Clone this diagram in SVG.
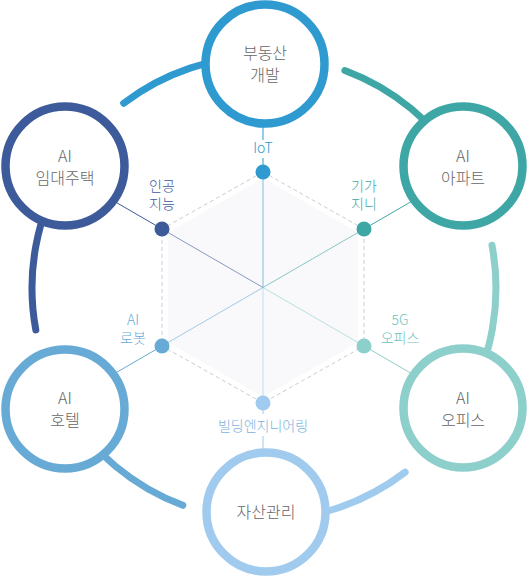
<svg xmlns="http://www.w3.org/2000/svg" width="529" height="577" viewBox="0 0 529 577">
<style>
.ring{fill:none;stroke-width:7;stroke-linecap:round}
.node{fill:#fff;stroke-width:8.5}
.main{font-family:"Noto Sans CJK KR","Noto Sans",sans-serif;font-size:16px;fill:#666;text-anchor:middle;font-weight:300}
.lab{font-family:"Noto Sans CJK KR","Noto Sans",sans-serif;font-size:14px;text-anchor:middle;font-weight:300}
.spoke{stroke-width:1;opacity:0.6}
.con{stroke-width:1}
</style>
<rect width="529" height="577" fill="#fff"/>
<g id="connectors">
  <path class="ring" stroke="#2e9ad0" d="M264,56 A232,232 0 0 0 123.7,103.2"/>
  <path class="ring" stroke="#3d5a9b" d="M66.2,166.8 A232,232 0 0 0 35.8,329.9"/>
  <path class="ring" stroke="#67aad5" d="M65.1,407.5 A232,232 0 0 0 182.8,505.3"/>
  <path class="ring" stroke="#9fcbee" d="M264,520 A232,232 0 0 0 405.2,472.1"/>
  <path class="ring" stroke="#8dcfcb" d="M462.9,407.5 A232,232 0 0 0 492,245.3"/>
  <path class="ring" stroke="#3ea7a6" d="M461.8,166.8 A232,232 0 0 0 344.9,70.5"/>
  <polygon points="263,178 358,232.5 358,342.5 263,397 168,342.5 168,232.5" fill="#f9f9fb"/>
  <polygon points="263,172 364,229 364,346 263,403 162,346 162,229" fill="none" stroke="#cccccc" stroke-width="1" stroke-dasharray="4,3"/>
  <line class="spoke" stroke="#2e9ad0" x1="263" y1="172" x2="263" y2="287.5"/>
  <line class="spoke" stroke="#3d5a9b" x1="162" y1="229" x2="263" y2="287.5"/>
  <line class="spoke" stroke="#3ea7a6" x1="364" y1="229" x2="263" y2="287.5"/>
  <line class="spoke" stroke="#67aad5" x1="162" y1="346" x2="263" y2="287.5"/>
  <line class="spoke" stroke="#8dcfcb" x1="364" y1="346" x2="263" y2="287.5"/>
  <line class="spoke" stroke="#9fcbee" x1="263" y1="403" x2="263" y2="287.5"/>
  <line class="con" stroke="#2e9ad0" x1="263" y1="120" x2="263" y2="140"/>
  <line class="con" stroke="#2e9ad0" x1="263" y1="158" x2="263" y2="172"/>
  <line class="con" stroke="#3d5a9b" x1="162" y1="229" x2="100" y2="193"/>
  <line class="con" stroke="#3ea7a6" x1="364" y1="229" x2="426" y2="193"/>
  <line class="con" stroke="#67aad5" x1="162" y1="346" x2="100" y2="382"/>
  <line class="con" stroke="#8dcfcb" x1="364" y1="346" x2="426" y2="382"/>
  <line class="con" stroke="#9fcbee" x1="263" y1="403" x2="263" y2="414"/>
  <line class="con" stroke="#9fcbee" x1="263" y1="436" x2="263" y2="455"/>
</g>
<g id="dots">
  <circle cx="263" cy="172" r="7.5" fill="#2e9ad0"/>
  <circle cx="162" cy="229" r="7.5" fill="#3d5a9b"/>
  <circle cx="364" cy="229" r="7.5" fill="#3ea7a6"/>
  <circle cx="162" cy="346" r="7.5" fill="#67aad5"/>
  <circle cx="364" cy="346" r="7.5" fill="#8dcfcb"/>
  <circle cx="263" cy="403" r="7.5" fill="#a0cbee"/>
</g>
<g id="labels">
  <text class="lab" fill="#2e9ad0" x="263" y="153">IoT</text>
  <text class="lab" fill="#3d5a9b" x="162" y="191">인공</text>
  <text class="lab" fill="#3d5a9b" x="162" y="209">지능</text>
  <text class="lab" fill="#3ea7a6" x="364" y="191">기가</text>
  <text class="lab" fill="#3ea7a6" x="364" y="209">지니</text>
  <text class="lab" fill="#67aad5" x="133" y="325">AI</text>
  <text class="lab" fill="#67aad5" x="133" y="343">로봇</text>
  <text class="lab" fill="#6cc2bd" x="400" y="325">5G</text>
  <text class="lab" fill="#6cc2bd" x="400" y="343">오피스</text>
  <text class="lab" fill="#7ab3e0" x="263" y="431">빌딩엔지니어링</text>
</g>
<g id="node-top">
  <circle class="node" stroke="#2e9ad0" cx="265" cy="64" r="59.5"/>
  <text class="main" x="265" y="59">부동산</text>
  <text class="main" x="265" y="81">개발</text>
</g>
<g id="node-ul">
  <circle class="node" stroke="#3d5a9b" cx="65" cy="166" r="59.5"/>
  <text class="main" x="65" y="162">AI</text>
  <text class="main" x="65" y="184">임대주택</text>
</g>
<g id="node-ur">
  <circle class="node" stroke="#3ea7a6" cx="463" cy="166" r="59.5"/>
  <text class="main" x="463" y="162">AI</text>
  <text class="main" x="463" y="184">아파트</text>
</g>
<g id="node-ll">
  <circle class="node" stroke="#67aad5" cx="65" cy="409" r="59.5"/>
  <text class="main" x="65" y="404">AI</text>
  <text class="main" x="65" y="426">호텔</text>
</g>
<g id="node-lr">
  <circle class="node" stroke="#8dcfcb" cx="463" cy="408" r="59.5"/>
  <text class="main" x="463" y="404">AI</text>
  <text class="main" x="463" y="426">오피스</text>
</g>
<g id="node-bottom">
  <circle class="node" stroke="#a0cbee" cx="266" cy="512" r="59.5"/>
  <text class="main" x="266" y="518">자산관리</text>
</g>
</svg>
